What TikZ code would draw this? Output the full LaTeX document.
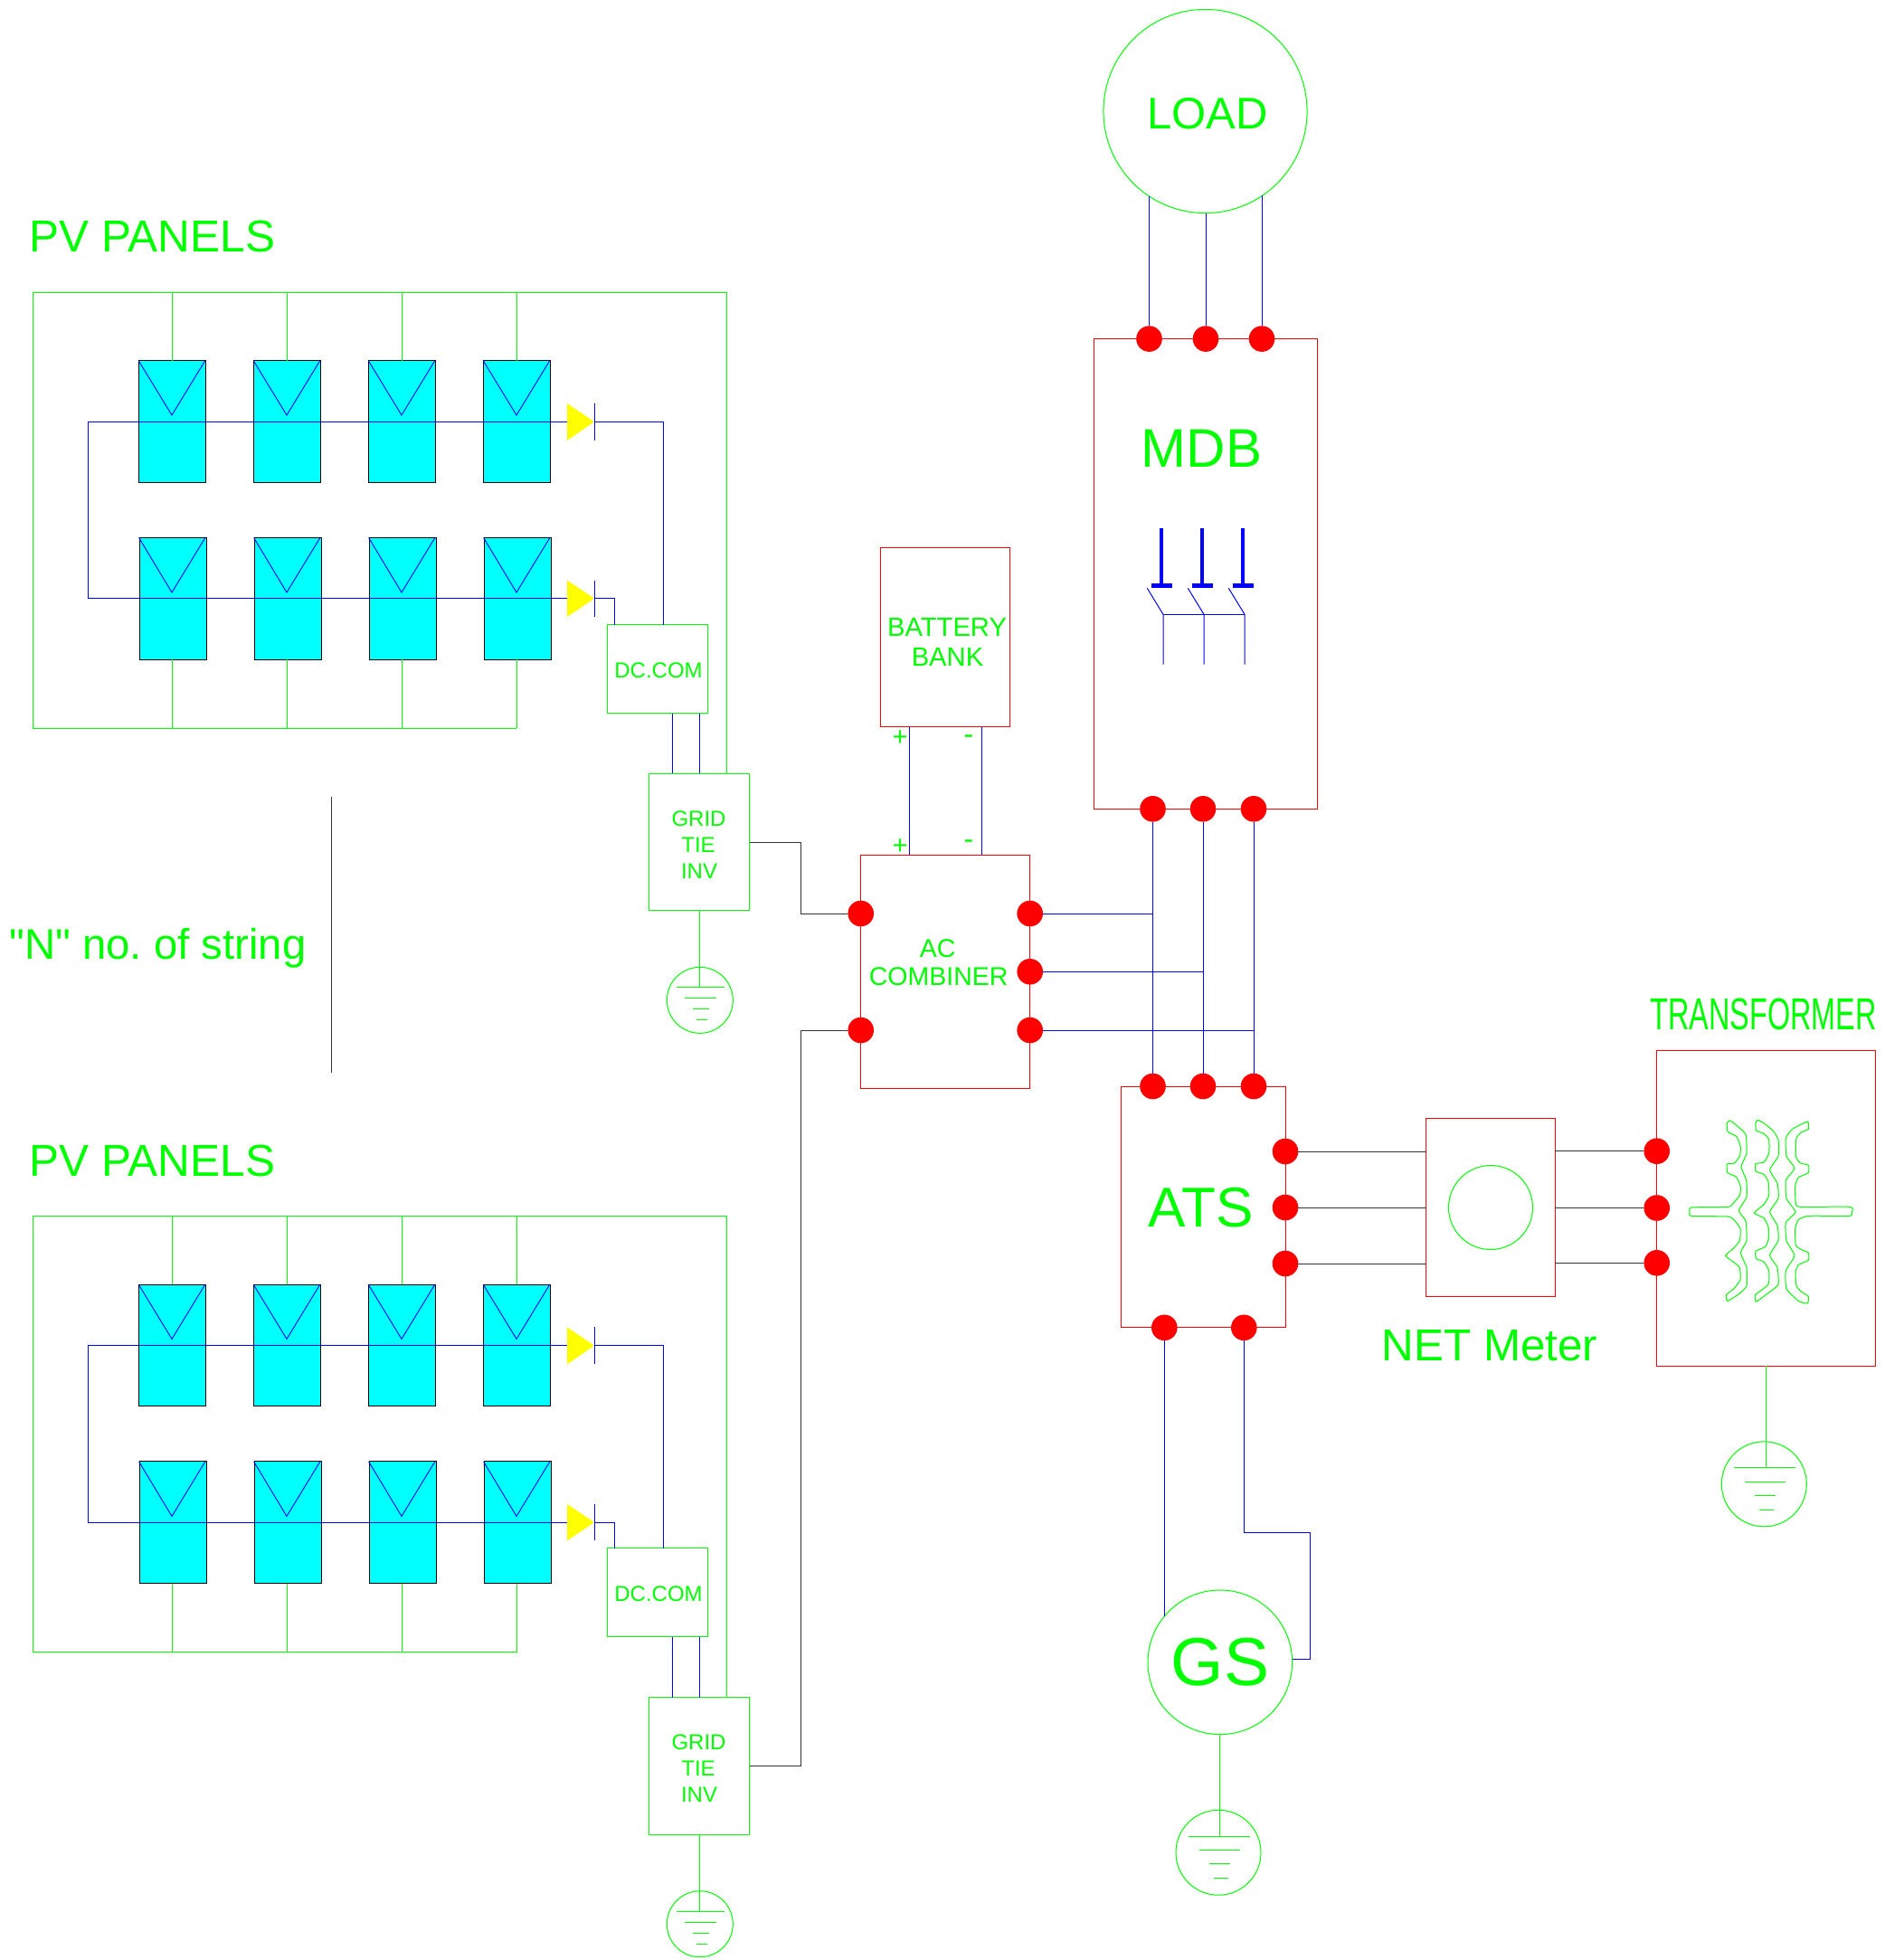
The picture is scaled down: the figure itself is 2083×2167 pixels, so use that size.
\documentclass[tikz,border=0pt]{standalone}
\usepackage{fontspec}
\setmainfont{Liberation Sans}
\newfontfamily\plainsans{Liberation Sans}
\definecolor{gr}{RGB}{0,255,0}
\definecolor{rd}{RGB}{255,0,0}
\definecolor{bl}{RGB}{0,0,255}
\definecolor{cy}{RGB}{0,255,255}
\definecolor{ye}{RGB}{255,255,0}
\newcommand{\fsz}[1]{\fontsize{#1}{#1}\selectfont}
\tikzset{
  wireg/.style={draw=gr,line width=1pt},
  wireb/.style={draw=bl,line width=1pt},
  wirek/.style={draw=black!80,line width=1pt},
  boxg/.style={draw=gr,line width=1pt,rectangle,inner sep=0pt,outer sep=0pt},
  boxr/.style={draw=rd,line width=1pt,rectangle,inner sep=0pt,outer sep=0pt},
  ringg/.style={draw=gr,line width=1pt,circle,inner sep=0pt,outer sep=0pt},
  dotr/.style={fill=rd,circle,minimum size=28.6pt,inner sep=0pt,outer sep=0pt},
  pvpanel/.style={draw=black,fill=cy,line width=1pt,rectangle,inner sep=0pt,outer sep=0pt,minimum width=74pt,minimum height=134.7pt},
  lbl/.style={text=gr,inner sep=0pt,outer sep=0pt,anchor=base},
  coil/.style={draw=gr,line width=1pt}
}
\newcommand{\earth}[4]{%
  \begin{scope}[shift={(#2,#3)},scale=#4]
    \draw[wireg] (0,0) circle (47);
    \coordinate (#1) at (2,-17.9);
    \draw[wireg] (-33,-17.9) -- (35,-17.9);
    \draw[wireg] (-21.3,-2.8) -- (23.7,-2.8);
    \draw[wireg] (-10.3,12.7) -- (12.7,12.7);
    \draw[wireg] (-5,28.2) -- (11,28.2);
  \end{scope}}
\newcommand{\pvgroup}[2]{%
  \begin{scope}[shift={(0,#2)}]
    \node[lbl,font=\fsz{49.5}] (title#1) at (168.5,279) {PV PANELS};
    \coordinate (nw#1) at (36.2,323);
    \coordinate (ne#1) at (803.7,323);
    \coordinate (sw#1) at (36.2,805.2);
    \coordinate (se#1) at (571,805.2);
    \node[boxg,minimum width=111pt,minimum height=98pt] (dc#1) at (726.5,739.5) {};
    \node[lbl,font=\fsz{24}] (dctext#1) at (728,749) {DC.COM};
    \node[boxg,minimum width=111pt,minimum height=151.4pt] (inv#1) at (773.2,931) {};
    \node[lbl,font=\fsz{24}] (invtexta#1) at (772.5,913) {GRID};
    \node[lbl,font=\fsz{24}] (invtextb#1) at (772,942) {TIE};
    \node[lbl,font=\fsz{24}] (invtextc#1) at (773,971) {INV};
    \draw[wireg] (se#1) -- (sw#1) -- (nw#1) -- (ne#1) -- (ne#1 |- inv#1.north);
    \foreach \i/\x/\y in {1/190/317,2/317/317,3/444/317,4/571/317}{
      \coordinate (rt#1\i) at (\x,323);
      \coordinate (rb#1\i) at (\x,805.2);
      \node[pvpanel] (pa#1\i) at (\x,466.15) {};
      \node[pvpanel] (pb#1\i) at (\x+1,661.75) {};
      \draw[wireg] (rt#1\i) -- (rt#1\i |- pa#1\i.north);
      \draw[wireg] (rb#1\i) -- (rb#1\i |- pb#1\i.south);
      \draw[wireb,line width=0.9pt] (\x-36.8,398.7) -- (\x,459) -- (\x+36.8,398.7);
      \draw[wireb,line width=0.9pt] (\x-36.4,594.5) -- (\x,655) -- (\x+36.9,594.5);
    }
    \coordinate (wa#1) at (97,466.3);
    \coordinate (wb#1) at (97,661.7);
    \coordinate (dka#1) at (627,466.3);
    \coordinate (dkb#1) at (627,661.7);
    \coordinate (cta#1) at (657,466.3);
    \coordinate (ctb#1) at (657,661.7);
    \coordinate (xa#1) at (733.4,466.3);
    \coordinate (xb#1) at (679,661.7);
    \fill[ye] (627,446) -- (cta#1) -- (627,487) -- cycle;
    \fill[ye] (627,641.5) -- (ctb#1) -- (627,682) -- cycle;
    \draw[wireb] (657,446) -- (657,487);
    \draw[wireb] (657,641.5) -- (657,682);
    \draw[wireb] (dka#1) -- (wa#1) -- (wb#1) -- (dkb#1);
    \draw[wireb] (cta#1) -- (xa#1) -- (xa#1 |- dc#1.north);
    \draw[wireb] (ctb#1) -- (xb#1) -- (xb#1 |- dc#1.north);
    \coordinate (dca#1) at (743,788.5);
    \coordinate (dcb#1) at (773.5,788.5);
    \draw[wireb] (dca#1) -- (dca#1 |- inv#1.north);
    \draw[wireb] (dcb#1) -- (dcb#1 |- inv#1.north);
    \earth{gnd#1}{773.8}{1105.8}{0.7766}
    \draw[wireg] (inv#1.south) -- (inv#1.south |- gnd#1);
  \end{scope}}
\begin{document}
\begin{tikzpicture}[x=1pt,y=-1pt]
\useasboundingbox (0,0) rectangle (2083,2167);
\fill[white] (0,0) rectangle (2083,2167);
\frenchspacing

\pvgroup{A}{0}
\pvgroup{B}{1021.4}

\node[lbl,font=\plainsans\fsz{47.3}] (ntext) at (174.5,1060.5) {"N" no. of string};
\coordinate (sepa) at (366,880.5);
\coordinate (sepb) at (366,1186);
\draw[wirek] (sepa) -- (sepb);

% boxes
\node[boxr,minimum width=187pt,minimum height=258.4pt] (ac) at (1045.2,1074.5) {};
\node[lbl,font=\fsz{28.5}] (actexta) at (1036.7,1058) {AC};
\node[lbl,font=\fsz{28.5}] (actextb) at (1037.7,1089.3) {COMBINER};
\node[boxr,minimum width=143pt,minimum height=198.3pt] (bat) at (1045.2,704.5) {};
\node[lbl,font=\fsz{29.2}] (battexta) at (1047,703.5) {BATTERY};
\node[lbl,font=\fsz{29.2}] (battextb) at (1047.5,736.5) {BANK};
\node[boxr,minimum width=247.6pt,minimum height=519.7pt] (mdb) at (1333,634.4) {};
\node[lbl,font=\fsz{60}] (mdbtext) at (1328.5,516.5) {MDB};
\node[boxr,minimum width=182pt,minimum height=266.8pt] (ats) at (1330.5,1334.4) {};
\node[lbl,font=\fsz{62}] (atstext) at (1327.5,1356) {ATS};
\node[boxr,minimum width=142.5pt,minimum height=197pt] (meter) at (1648.2,1334.5) {};
\node[ringg,minimum size=93pt] (meterc) at (1648,1335) {};
\node[lbl,font=\fsz{49.4}] (metertext) at (1647,1504.6) {NET Meter};
\node[boxr,minimum width=241.6pt,minimum height=348.8pt] (trf) at (1952.5,1335.6) {};
\node[lbl,font=\fsz{49.6},xscale=0.653,transform shape] (trftext) at (1949.5,1138.5) {TRANSFORMER};
\node[ringg,minimum size=225.2pt] (load) at (1332.5,123) {};
\node[lbl,font=\fsz{49}] (loadtext) at (1335,142.5) {LOAD};
\node[ringg,minimum size=159.6pt] (gs) at (1348.8,1837.8) {};
\node[lbl,font=\fsz{75}] (gstext) at (1349,1863.5) {GS};

% breakers
\foreach \i/\x in {1/1284,2/1329,3/1374}{
  \draw[bl,line width=4pt] (\x,584) -- (\x,647.3);
  \draw[bl,line width=5pt] (\x-11.3,647.3) -- (\x+11.7,647.3);
  \draw[wireb] (\x-15.7,650.3) -- (\x+2,679.3) -- (\x+2,734.7);
}
\draw[wireb] (1286,679.3) -- (1376,679.3);

% transformer windings
\begin{scope}[shift={(1860,1225)},x=0.3333pt,y=-0.3333pt]
\draw[coil] plot[smooth cycle,tension=0.3] coordinates {(24,347) (30,330) (150,328) (165,320) (190,290) (193,260) (178,228) (150,215) (148,186) (172,183) (190,160) (193,130) (180,95) (150,78) (148,50) (158,42) (180,58) (210,88) (213,150) (195,195) (212,240) (213,295) (187,340) (210,375) (213,440) (193,480) (213,530) (213,590) (190,615) (150,640) (145,620) (170,600) (192,570) (190,530) (175,515) (143,490) (170,465) (190,440) (192,400) (170,370) (150,360) (30,358)};
\draw[coil] plot[smooth cycle,tension=0.3] coordinates {(243,50) (250,40) (270,50) (300,75) (318,105) (318,160) (290,205) (315,250) (318,300) (290,345) (315,390) (318,440) (290,488) (315,530) (318,585) (290,610) (245,642) (242,620) (285,585) (287,540) (270,510) (245,500) (243,475) (275,460) (287,430) (285,395) (270,365) (238,348) (270,320) (287,290) (285,245) (270,220) (243,210) (243,185) (270,180) (287,150) (287,105) (270,85) (245,75)};
\draw[coil] plot[smooth cycle,tension=0.3] coordinates {(415,45) (418,70) (395,80) (378,100) (376,160) (390,182) (418,190) (418,215) (385,230) (374,260) (376,315) (390,328) (557,328) (562,347) (555,358) (420,358) (385,370) (374,400) (376,455) (395,470) (418,480) (418,505) (385,520) (375,545) (378,590) (395,610) (418,625) (415,648) (385,640) (345,600) (343,540) (372,490) (345,440) (343,380) (375,345) (345,300) (343,240) (372,200) (345,160) (343,100) (365,70)};
\end{scope}

% earths
\earth{gndT}{1950.3}{1640.8}{1}
\earth{gndS}{1347}{2048.2}{1}

% dots
\foreach \n/\x/\y in {mt1/1270.5/374.6,mt2/1333/374.6,mt3/1395/374.6,
  mb1/1274.5/894.3,mb2/1330/894.3,mb3/1386/894.3,
  at1/1274.5/1201,at2/1330/1201,at3/1386/1201,
  ar1/1421/1273,ar2/1421/1335,ar3/1421/1397,
  ab1/1287.3/1467.8,ab2/1375.3/1467.8,
  tl1/1831.7/1272.7,tl2/1831.7/1335.5,tl3/1831.7/1396.3,
  cl1/951.7/1010,cl2/951.7/1139,
  cr1/1138.7/1010,cr2/1138.7/1074.3,cr3/1138.7/1139}{
  \node[dotr] (\n) at (\x,\y) {};
}

% load to MDB
\draw[wireb] (mt1) -- (mt1 |- load.-123.4);
\draw[wireb] (mt2) -- (mt2 |- load.-90);
\draw[wireb] (mt3) -- (mt3 |- load.-56.6);
% MDB to ATS
\draw[wireb] (mb1) -- (at1);
\draw[wireb] (mb2) -- (at2);
\draw[wireb] (mb3) -- (at3);
% combiner to bus
\draw[wireb] (cr1) -- (cr1 -| mb1);
\draw[wireb] (cr2) -- (cr2 -| mb2);
\draw[wireb] (cr3) -- (cr3 -| mb3);
% battery
\coordinate (bplus) at (1005.3,0);
\coordinate (bminus) at (1085,0);
\draw[wireb] (bplus |- bat.south) -- (bplus |- ac.north);
\draw[wireb] (bminus |- bat.south) -- (bminus |- ac.north);
\node[text=gr,inner sep=0pt,font=\fsz{29}] (pa) at (995,816) {+};
\node[text=gr,inner sep=0pt,font=\fsz{29}] (pb) at (995,936.5) {+};
\node[text=gr,inner sep=0pt,font=\fsz{32}] (ma) at (1071,818) {-};
\node[text=gr,inner sep=0pt,font=\fsz{32}] (mb) at (1071,934) {-};
% inverters to combiner
\coordinate (benda) at (885.3,931);
\coordinate (bendb) at (885.3,1952.4);
\draw[wirek] (invA.east) -- (benda) |- (cl1);
\draw[wirek] (invB.east) -- (bendb) |- (cl2);
% ATS to meter to transformer
\draw[wirek] (ar1) -- (ar1 -| meter.west);
\draw[wirek] (ar2) -- (ar2 -| meter.west);
\draw[wirek] (ar3) -- (ar3 -| meter.west);
\draw[wirek] (tl1 -| meter.east) -- (tl1);
\draw[wirek] (tl2 -| meter.east) -- (tl2);
\draw[wirek] (tl3 -| meter.east) -- (tl3);
% generator
\coordinate (gsa) at (1448.3,1694.5);
\coordinate (gsb) at (1448.3,1834.5);
\draw[wireb] (ab1) -- (ab1 |- gs.140.4);
\draw[wireb] (ab2) |- (gsa) -- (gsb) -- (gsb -| gs.east);
% earth wires
\draw[wireg] (trf.south) -- (trf.south |- gndT);
\draw[wireg] (gs.south) -- (gs.south |- gndS);
\end{tikzpicture}
\end{document}
